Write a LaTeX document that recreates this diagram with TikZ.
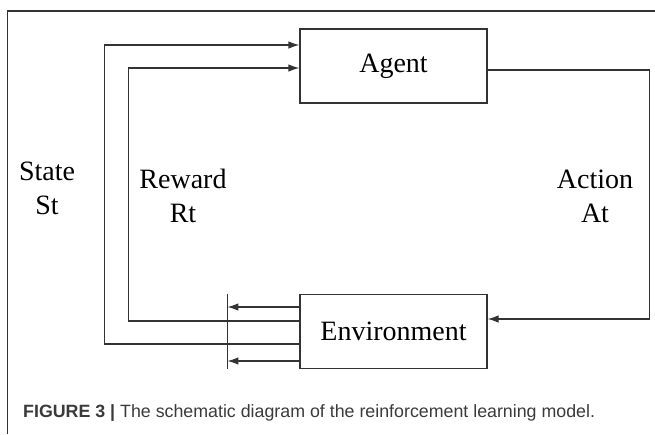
\documentclass[tikz,border=0pt]{standalone}
\usepackage{fontspec}
\setmainfont{Liberation Serif}
\setsansfont{Liberation Sans}
\usepackage{tikz}
\usetikzlibrary{arrows.meta}
\definecolor{linegray}{HTML}{333333}
\definecolor{captiongray}{HTML}{3A3A3A}

\begin{document}
\begin{tikzpicture}[x=1pt, y=-1pt,
    block/.style={draw=linegray, line width=1.2pt, minimum width=187pt, minimum height=74pt, inner sep=0pt, font=\fontsize{28}{32}\selectfont},
    lbl/.style={align=center, inner sep=0pt, font=\fontsize{28}{34}\selectfont},
    conn/.style={draw=linegray, line width=1.2pt},
    tip/.style={conn, -{Latex[length=11pt, width=7.5pt]}}]
    \useasboundingbox (0, 0) rectangle (655, 434);
    \draw[linegray, line width=1.4pt] (655, 11) -- (7.5, 11) -- (7.5, 434);
    \node[block] (A) at (393.5, 66){Agent};
    \node[block] (E) at (393.5, 331.5){Environment};
    \node[lbl] (S) at (47, 188){State\\St};
    \node[lbl] (R) at (183, 196){Reward\\Rt};
    \node[lbl] (At) at (595, 196){Action\\At};
    \coordinate (bartop) at ([xshift=-72pt]E.north west);
    \coordinate (barbot) at ([xshift=-72pt]E.south west);
    \draw[conn] (bartop)--(barbot);
    \draw[tip] ([yshift=24.5pt]E.west)--++(-72, 0);
    \draw[tip] ([yshift=-29.5pt]E.west)--++(-72, 0);
    \draw[tip] ([yshift=-12.5pt]E.west)--++(-195, 0) |- ([yshift=21pt]A.west);
    \draw[tip] ([yshift=10.5pt]E.west)--++(-171, 0) |- ([yshift=-2pt]A.west);
    \draw[tip] ([yshift=-4pt]A.east)--++(162, 0) |- ([yshift=12.5pt]E.east);
    \node[anchor=west, inner sep=0pt, text=captiongray, font=\sffamily\fontsize{17.8}{20}\selectfont] (cap) at (23, 413){\textbf{FIGURE 3 |} The schematic diagram of the reinforcement learning model.};
  \end{tikzpicture}
\end{document}
